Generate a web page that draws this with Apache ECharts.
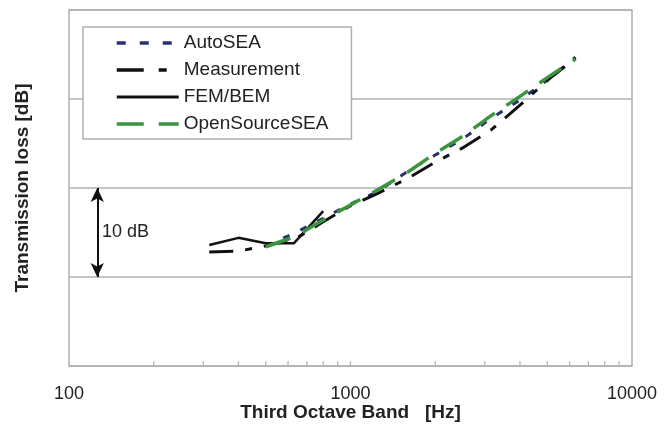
<!DOCTYPE html>
<html>
<head>
<meta charset="utf-8">
<script src="https://cdn.jsdelivr.net/npm/echarts@6/dist/echarts.min.js"></script>
<style>
html,body{margin:0;padding:0;background:#fff;}
#c{width:672px;height:438px;}
</style>
</head>
<body>
<div id="c"></div>
<script>
// ---- data ----
const bandsAll = [315, 400, 500, 630, 800, 1000, 1250, 1600, 2000, 2500, 3150, 4000, 5000, 6300];
const bandsSEA = [500, 630, 800, 1000, 1250, 1600, 2000, 2500, 3150, 4000, 5000, 6300];
const bandsFEM = [315, 400, 500, 630, 800];
const autoSEA = [13.5, 14.9, 16.6, 18.2, 19.6, 21.9, 23.7, 25.5, 27.8, 29.9, 32.1, 34.7];
const measurement = [12.8, 12.9, 13.5, 14.2, 16.2, 18.0, 19.4, 21.1, 22.9, 24.5, 26.5, 29.3, 32.1, 34.6];
const femBem = [13.6, 14.4, 13.8, 13.8, 17.4];
const openSourceSEA = [13.4, 14.5, 16.4, 18.1, 19.8, 21.8, 23.9, 25.8, 28.1, 30.3, 32.4, 34.5];
const xTickLabels = [100, 1000, 10000];
const xMinorTicks = [200, 300, 400, 500, 600, 700, 800, 900, 1000, 2000, 3000, 4000, 5000, 6000, 7000, 8000, 9000];
const arrowFreq = 126;          // x position of the "10 dB" scale arrow
const arrowRange = [10, 20];    // one 10 dB interval

const pairs = (xs, ys) => xs.map((x, i) => [x, ys[i]]);
const FONT = '"Liberation Sans", Arial, sans-serif';

const chart = echarts.init(document.getElementById('c'), null, {renderer: 'canvas'});
chart.setOption({
  animation: false,
  backgroundColor: '#fff',
  textStyle: {fontFamily: FONT},
  grid: {left: 69, right: 40, top: 10, bottom: 72, show: true, borderColor: '#b0b0b0', borderWidth: 1.5, backgroundColor: 'transparent'},
  legend: {
    orient: 'vertical', left: 83, top: 27,
    padding: [6, 23, 5, 32],
    itemWidth: 62, itemHeight: 14, itemGap: 7, itemTextGap: 0,
    borderColor: '#b0b0b0', borderWidth: 1.5, backgroundColor: '#fff',
    itemStyle: {opacity: 0},
    lineStyle: {width: 3.5},
    textStyle: {fontSize: 19, color: '#222', fontFamily: FONT, lineHeight: 20},
    data: [
      {name: 'AutoSEA', lineStyle: {width: 3.5, type: [9, 14]}},
      {name: 'Measurement', lineStyle: {width: 3.5, type: [27, 15, 8, 30]}},
      {name: 'FEM/BEM', lineStyle: {width: 3, type: 'solid'}},
      {name: 'OpenSourceSEA', lineStyle: {width: 3.5, type: [27, 15]}}
    ]
  },
  xAxis: {
    type: 'log', logBase: 10, min: 100, max: 10000,
    name: 'Third Octave Band   [Hz]', nameLocation: 'middle', nameGap: 37, nameMoveOverlap: false,
    nameTextStyle: {fontSize: 19, fontWeight: 'bold', color: '#222', fontFamily: FONT},
    axisLine: {show: false}, axisTick: {show: false},
    splitLine: {show: false},
    axisLabel: {fontSize: 18, color: '#222', margin: 19, fontFamily: FONT,
      formatter: v => xTickLabels.indexOf(Math.round(v)) >= 0 ? String(Math.round(v)) : ''}
  },
  yAxis: {
    type: 'value', min: 0, max: 40, interval: 10,
    name: 'Transmission loss [dB]', nameLocation: 'middle', nameGap: 37, nameMoveOverlap: false,
    nameTextStyle: {fontSize: 19, fontWeight: 'bold', color: '#222', fontFamily: FONT},
    axisLine: {show: false}, axisTick: {show: false}, axisLabel: {show: false},
    splitLine: {lineStyle: {color: '#b0b0b0', width: 1.5}}
  },
  series: [
    {
      name: 'AutoSEA', type: 'line', data: pairs(bandsSEA, autoSEA), symbol: 'none', z: 3,
      lineStyle: {color: '#2a2f70', width: 3, type: [7, 12]}, itemStyle: {color: '#2a2f70'}
    },
    {
      name: 'Measurement', type: 'line', data: pairs(bandsAll, measurement), symbol: 'none', z: 3,
      lineStyle: {color: '#111', width: 3, type: [24, 12, 7, 12]}, itemStyle: {color: '#111'},
      markLine: {
        silent: true, symbol: ['arrow', 'arrow'], symbolSize: [10, 14],
        lineStyle: {color: '#111', width: 2, type: 'solid'}, label: {show: false},
        data: [[{coord: [arrowFreq, arrowRange[0]]}, {coord: [arrowFreq, arrowRange[1]]}]]
      }
    },
    {
      name: 'FEM/BEM', type: 'line', data: pairs(bandsFEM, femBem), symbol: 'none', z: 4,
      lineStyle: {color: '#111', width: 2.5, type: 'solid'}, itemStyle: {color: '#111'}
    },
    {
      name: 'OpenSourceSEA', type: 'line', data: pairs(bandsSEA, openSourceSEA), symbol: 'none', z: 5,
      lineStyle: {color: '#3a953c', width: 3.5, type: [26, 14]}, itemStyle: {color: '#3a953c'}
    },
    {
      name: 'minorTicks', type: 'custom', silent: true, z: 2,
      data: xMinorTicks.map(v => [v, 0]),
      renderItem: (params, api) => {
        const p = api.coord([api.value(0), 0]);
        return {type: 'line', shape: {x1: p[0], y1: p[1], x2: p[0], y2: p[1] - 5},
          style: {stroke: '#b0b0b0', lineWidth: 1.2}};
      }
    }
  ],
  graphic: [
    {type: 'text', left: 102, top: 223, style: {text: '10 dB', fontSize: 18, fill: '#222', font: '18px ' + FONT}}
  ]
});
</script>
</body>
</html>
